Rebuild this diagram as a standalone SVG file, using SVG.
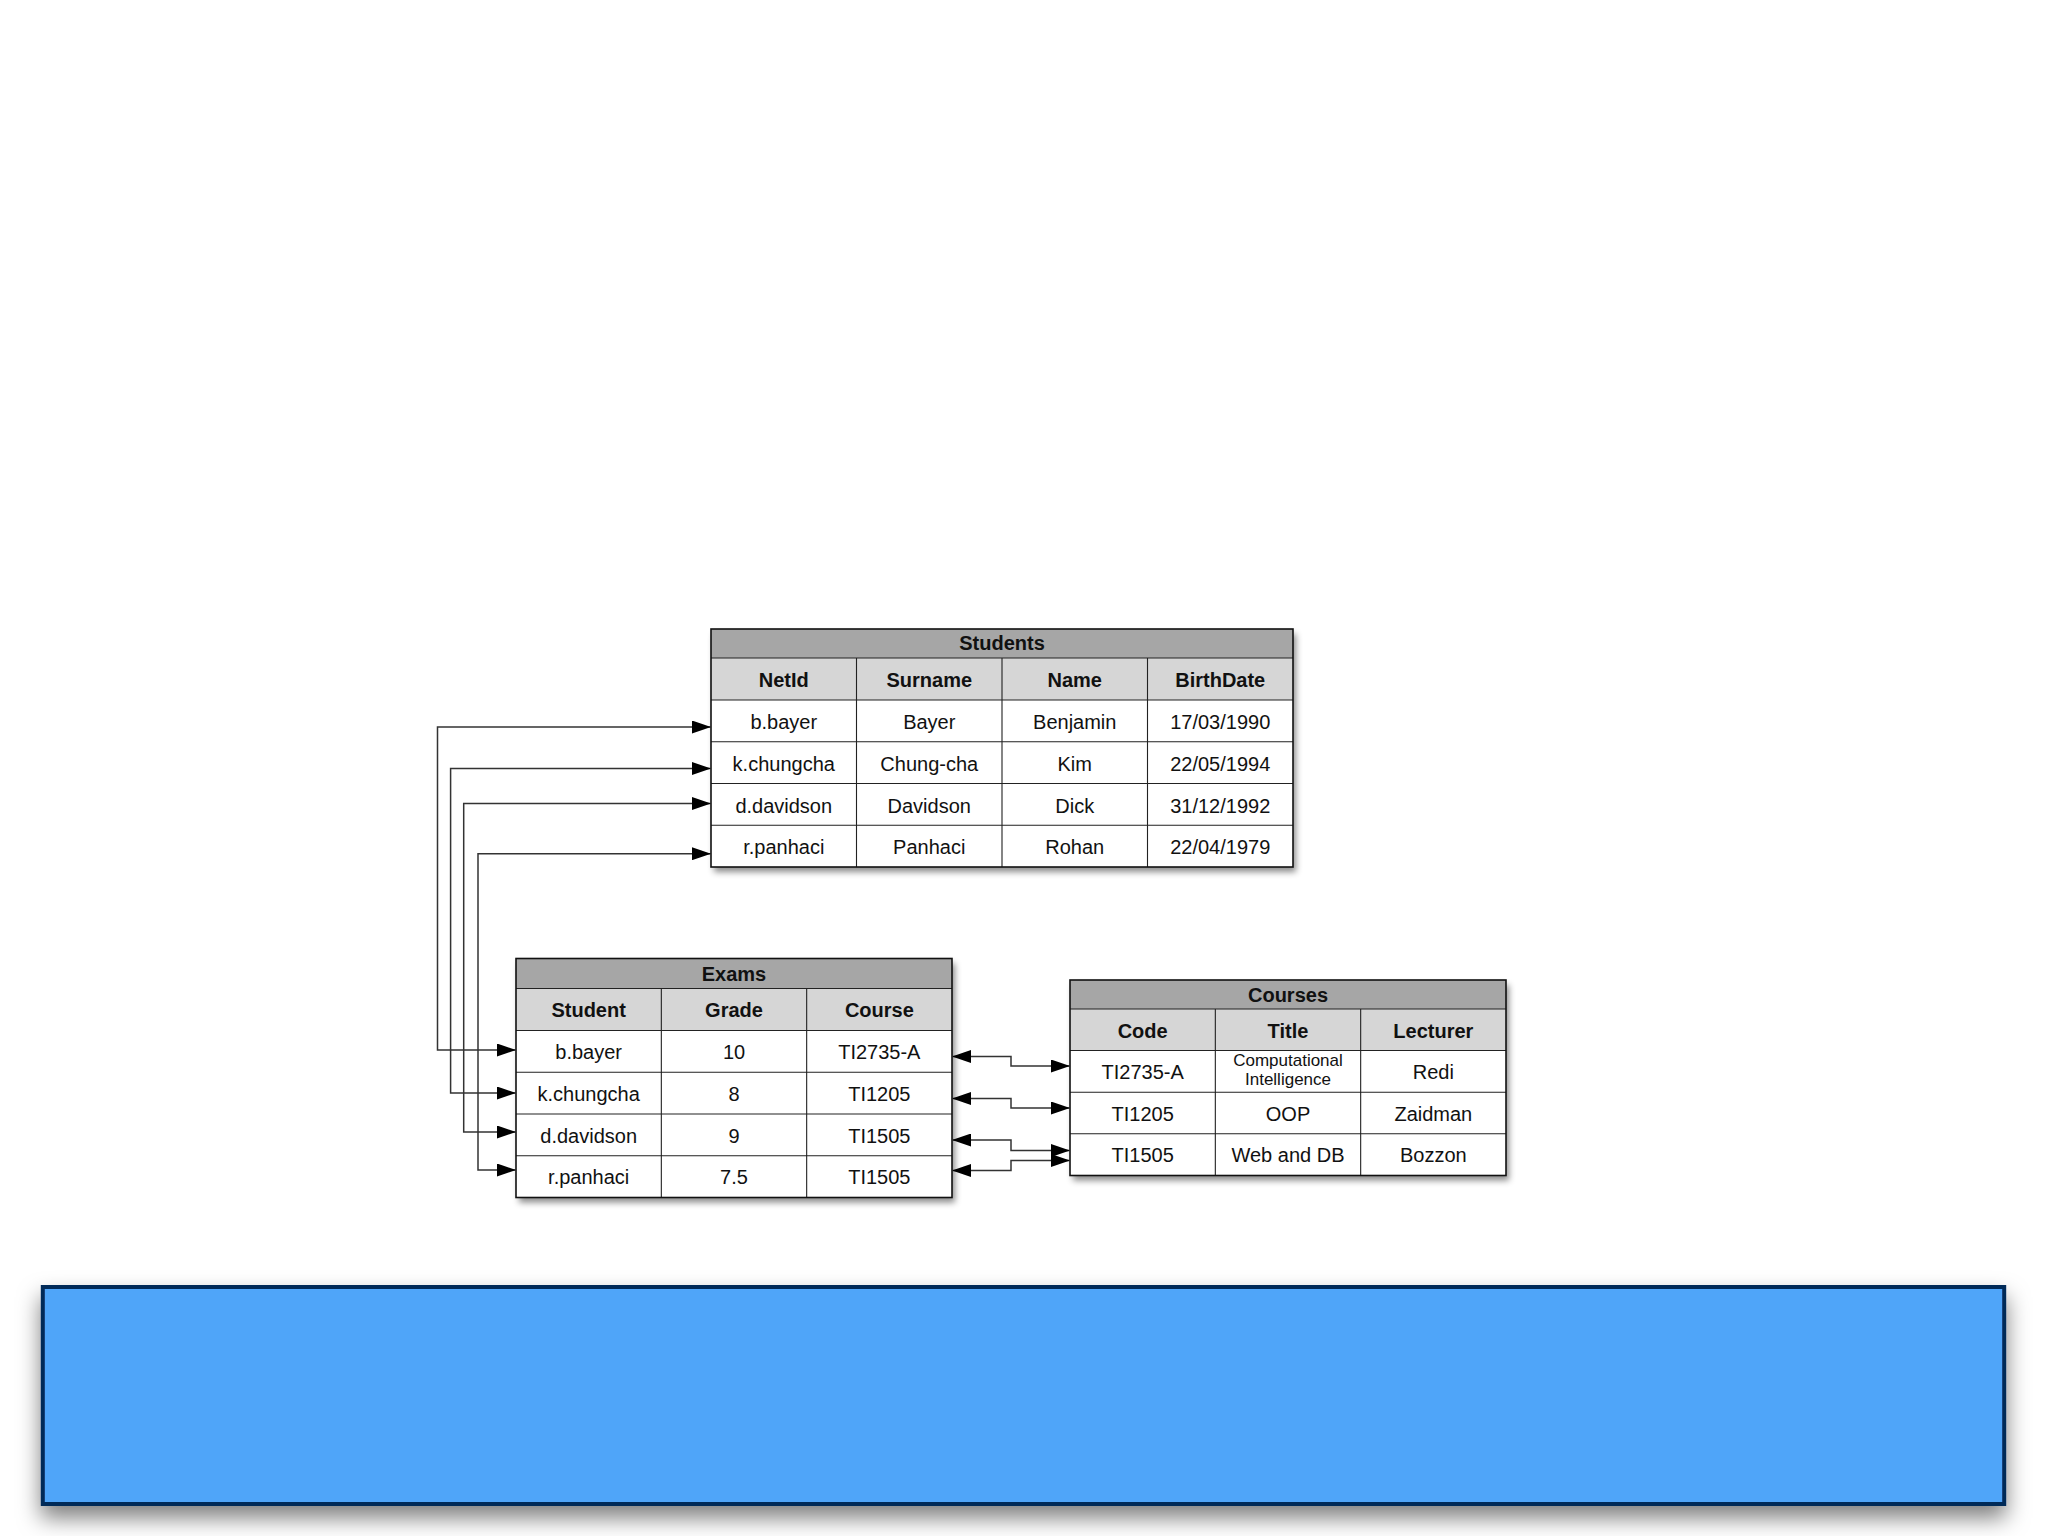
<svg xmlns="http://www.w3.org/2000/svg" width="2048" height="1536" viewBox="0 0 2048 1536">
<style>
.ttl{fill:#a6a6a6}
.hdr{fill:#d6d6d6}
.body{fill:#ffffff}
.outer{fill:none;stroke:#111;stroke-width:1.6}
.grid{fill:none;stroke:#222;stroke-width:1.1}
text{font-family:"Liberation Sans",Arial,sans-serif;font-size:20px;fill:#111;text-anchor:middle}
.b{font-weight:bold}
.sm{font-size:17px}
.conn{fill:none;stroke:#333;stroke-width:1.5}
</style>
<defs>
<filter id="tsh" x="-5%" y="-5%" width="115%" height="120%">
<feDropShadow dx="3" dy="5" stdDeviation="3" flood-color="#000" flood-opacity="0.45"/>
</filter>
<filter id="bsh" x="-5%" y="-30%" width="110%" height="180%">
<feDropShadow dx="0" dy="12" stdDeviation="11" flood-color="#000" flood-opacity="0.5"/>
</filter>
<marker id="ah" markerUnits="userSpaceOnUse" markerWidth="19" markerHeight="13" refX="19" refY="6.5" orient="auto-start-reverse" viewBox="0 0 19 13">
<path d="M0,0 L19,6.5 L0,13 z" fill="#000"/>
</marker>
</defs>
<rect width="2048" height="1536" fill="#ffffff"/>

<g id="students">
<rect x="711" y="629" width="582" height="238" class="body" filter="url(#tsh)"/>
<rect x="711" y="629" width="582" height="29" class="ttl"/>
<rect x="711" y="658" width="582" height="42" class="hdr"/>
<path class="grid" d="M711 658H1293M711 700H1293M711 741.75H1293M711 783.5H1293M711 825.25H1293M856.5 658V867M1002 658V867M1147.5 658V867"/>
<rect x="711" y="629" width="582" height="238" class="outer"/>
<text x="1002" y="650" class="b">Students</text>
<text x="783.75" y="687" class="b">NetId</text>
<text x="929.25" y="687" class="b">Surname</text>
<text x="1074.75" y="687" class="b">Name</text>
<text x="1220.25" y="687" class="b">BirthDate</text>
<text x="783.75" y="729">b.bayer</text>
<text x="929.25" y="729">Bayer</text>
<text x="1074.75" y="729">Benjamin</text>
<text x="1220.25" y="729">17/03/1990</text>
<text x="783.75" y="771">k.chungcha</text>
<text x="929.25" y="771">Chung-cha</text>
<text x="1074.75" y="771">Kim</text>
<text x="1220.25" y="771">22/05/1994</text>
<text x="783.75" y="812.5">d.davidson</text>
<text x="929.25" y="812.5">Davidson</text>
<text x="1074.75" y="812.5">Dick</text>
<text x="1220.25" y="812.5">31/12/1992</text>
<text x="783.75" y="854">r.panhaci</text>
<text x="929.25" y="854">Panhaci</text>
<text x="1074.75" y="854">Rohan</text>
<text x="1220.25" y="854">22/04/1979</text>
</g>

<g id="exams">
<rect x="516" y="958.5" width="436" height="239" class="body" filter="url(#tsh)"/>
<rect x="516" y="958.5" width="436" height="30" class="ttl"/>
<rect x="516" y="988.5" width="436" height="42" class="hdr"/>
<path class="grid" d="M516 988.5H952M516 1030.5H952M516 1072.25H952M516 1114H952M516 1155.75H952M661.33 988.5V1197.5M806.67 988.5V1197.5"/>
<rect x="516" y="958.5" width="436" height="239" class="outer"/>
<text x="734" y="980.5" class="b">Exams</text>
<text x="588.67" y="1017" class="b">Student</text>
<text x="734" y="1017" class="b">Grade</text>
<text x="879.33" y="1017" class="b">Course</text>
<text x="588.67" y="1059">b.bayer</text>
<text x="734" y="1059">10</text>
<text x="879.33" y="1059">TI2735-A</text>
<text x="588.67" y="1100.5">k.chungcha</text>
<text x="734" y="1100.5">8</text>
<text x="879.33" y="1100.5">TI1205</text>
<text x="588.67" y="1142.5">d.davidson</text>
<text x="734" y="1142.5">9</text>
<text x="879.33" y="1142.5">TI1505</text>
<text x="588.67" y="1184">r.panhaci</text>
<text x="734" y="1184">7.5</text>
<text x="879.33" y="1184">TI1505</text>
</g>

<g id="courses">
<rect x="1070" y="980" width="436" height="195.5" class="body" filter="url(#tsh)"/>
<rect x="1070" y="980" width="436" height="29" class="ttl"/>
<rect x="1070" y="1009" width="436" height="41.5" class="hdr"/>
<path class="grid" d="M1070 1009H1506M1070 1050.5H1506M1070 1092.2H1506M1070 1133.8H1506M1215.33 1009V1175.5M1360.67 1009V1175.5"/>
<rect x="1070" y="980" width="436" height="195.5" class="outer"/>
<text x="1288" y="1001.5" class="b">Courses</text>
<text x="1142.67" y="1038" class="b">Code</text>
<text x="1288" y="1038" class="b">Title</text>
<text x="1433.33" y="1038" class="b">Lecturer</text>
<text x="1142.67" y="1079">TI2735-A</text>
<text x="1288" y="1066" class="sm">Computational</text>
<text x="1288" y="1085" class="sm">Intelligence</text>
<text x="1433.33" y="1079">Redi</text>
<text x="1142.67" y="1120.5">TI1205</text>
<text x="1288" y="1120.5">OOP</text>
<text x="1433.33" y="1120.5">Zaidman</text>
<text x="1142.67" y="1162">TI1505</text>
<text x="1288" y="1162">Web and DB</text>
<text x="1433.33" y="1162">Bozzon</text>
</g>

<g id="connectors">
<path class="conn" marker-start="url(#ah)" marker-end="url(#ah)" d="M711 727H437.5V1050H516"/>
<path class="conn" marker-start="url(#ah)" marker-end="url(#ah)" d="M711 768.5H450.6V1093H516"/>
<path class="conn" marker-start="url(#ah)" marker-end="url(#ah)" d="M711 803.5H463.7V1132H516"/>
<path class="conn" marker-start="url(#ah)" marker-end="url(#ah)" d="M711 853.7H478V1170H516"/>
<path class="conn" marker-start="url(#ah)" marker-end="url(#ah)" d="M952 1056.5H1011V1066H1070"/>
<path class="conn" marker-start="url(#ah)" marker-end="url(#ah)" d="M952 1098.5H1011V1108H1070"/>
<path class="conn" marker-start="url(#ah)" marker-end="url(#ah)" d="M952 1140H1011V1150.5H1070"/>
<path class="conn" marker-start="url(#ah)" marker-end="url(#ah)" d="M952 1170.5H1011V1160.5H1070"/>
</g>

<g id="banner">
<rect x="42.8" y="1287" width="1961.4" height="217" fill="#50a5f9" stroke="#062958" stroke-width="4" filter="url(#bsh)"/>
</g>
</svg>
